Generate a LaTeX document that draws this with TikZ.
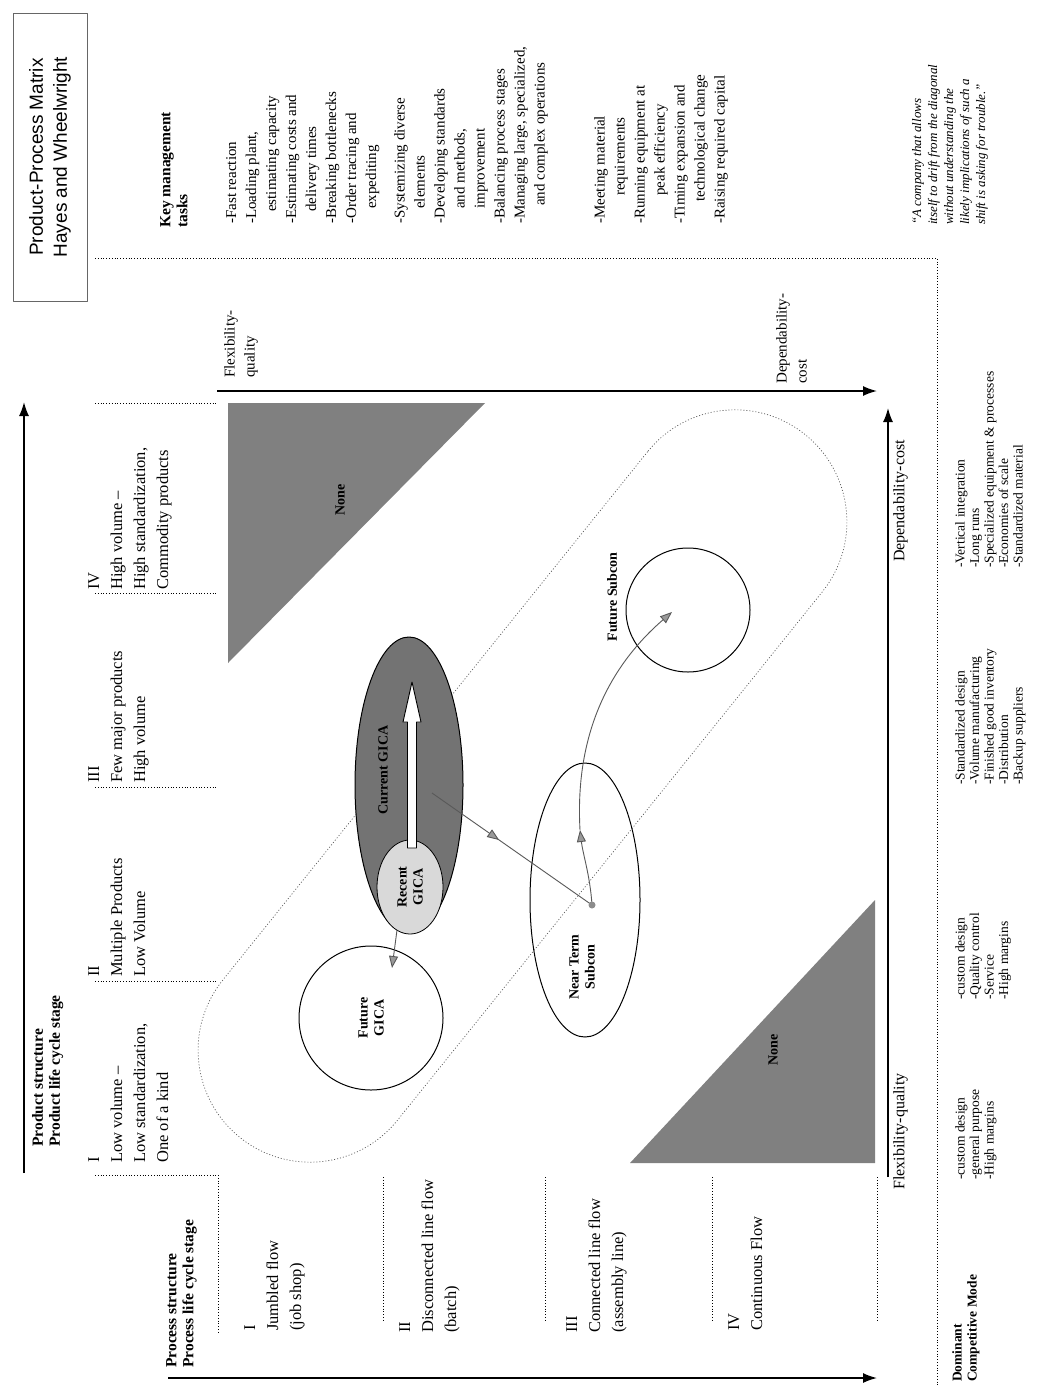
\documentclass[tikz,border=0pt]{standalone}
\usepackage{fontspec}
\setmainfont{Liberation Serif}
\newfontfamily\titlefont{Liberation Sans}
\usetikzlibrary{arrows.meta,shapes.geometric,decorations.markings}
\begin{document}
\begin{tikzpicture}[x=1pt,y=-1pt,line join=round,
  lab/.style={rotate=90,anchor=north west,align=left,inner sep=0pt,font=\fontsize{16.5}{23}\selectfont},
  hdr/.style={rotate=90,anchor=north west,align=left,inner sep=0pt,font=\bfseries\fontsize{15.5}{17}\selectfont},
  lst/.style={rotate=90,anchor=north west,align=left,inner sep=0pt,font=\fontsize{15}{20}\selectfont},
  sml/.style={rotate=90,anchor=north west,align=left,inner sep=0pt,font=\fontsize{13.5}{14.5}\selectfont},
  blab/.style={rotate=90,align=center,inner sep=0pt,font=\bfseries\fontsize{14}{16}\selectfont},
  sep/.style={dotted,line width=0.8pt},
  axis/.style={line width=1.6pt,-{Latex[length=14pt,width=10pt]}},
  conn/.style={line width=0.9pt,draw=black!65,-{Triangle[length=12pt,width=9pt,fill=black!40]}},
  connmid/.style={line width=0.9pt,draw=black!65,postaction={decorate},
    decoration={markings,mark=at position 0.42 with {\arrow{Triangle[length=12pt,width=9pt,fill=black!40]}}}},
  ]
\useasboundingbox[fill=white] (0,0) rectangle (1057,1388);

% title
\node[draw=black!60,line width=0.6pt,rotate=90,minimum width=288pt,minimum height=74pt,align=center,
  font=\titlefont\fontsize{19}{24}\selectfont] (title) at (50,157) {Product-Process Matrix\\Hayes and Wheelwright};

% main axes
\coordinate (pa0) at (24,1173); \coordinate (pa1) at (24,402);
\draw[axis] (pa0) -- (pa1);
\coordinate (qa0) at (168,1378); \coordinate (qa1) at (877,1378);
\draw[axis] (qa0) -- (qa1);
\coordinate (ra0) at (217,391); \coordinate (ra1) at (877,391);
\draw[axis] (ra0) -- (ra1);
\coordinate (sa0) at (888,1177); \coordinate (sa1) at (888,408);
\draw[axis] (sa0) -- (sa1);

% separators
\foreach \yy in {403,593,787,981,1175} \draw[sep] (95,\yy) -- (217,\yy);
\draw[sep] (218,1175) -- (218,1332);
\foreach \xx in {383,545,712,877} \draw[sep] (\xx,1177) -- (\xx,1320);
\draw[sep] (95,258) -- (937,258) -- (937,1386);

% headers
\node[hdr] (prodh) at (32,1147) {Product structure\\Product life cycle stage};
\node[hdr] (proch) at (166,1368) {Process structure\\Process life cycle stage};
\node[hdr] (keyh) at (160,228) {Key management\\tasks};

\node[lab] (c1) at (88,1163) {I\\Low volume --\\Low standardization,\\One of a kind};
\node[lab] (c2) at (88,977) {II\\Multiple Products\\Low Volume};
\node[lab] (c3) at (88,783) {III\\Few major products\\High volume};
\node[lab] (c4) at (88,590) {IV\\High volume --\\High standardization,\\Commodity products};

\node[lab] (r1) at (244,1331) {I\\Jumbled flow\\(job shop)};
\node[lab] (r2) at (399,1333) {II\\Disconnected line flow\\(batch)};
\node[lab] (r3) at (566,1333) {III\\Connected line flow\\(assembly line)};
\node[lab] (r4) at (728,1331) {IV\\Continuous Flow};

% key management tasks
\node[lst] (k1) at (226,224) {-Fast reaction\\-Loading plant,\\\hspace*{12pt}estimating capacity\\-Estimating costs and\\\hspace*{12pt}delivery times\\-Breaking bottlenecks\\-Order tracing and\\\hspace*{15pt}expediting};
\node[lst] (k2) at (394,224) {-Systemizing diverse\\\hspace*{15pt}elements\\-Developing standards\\\hspace*{15pt}and methods,\\\hspace*{15pt}improvement\\-Balancing process stages\\-Managing large, specialized,\\\hspace*{18pt}and complex operations};
\node[lst] (k3) at (594,224) {-Meeting material\\\hspace*{28pt}requirements\\-Running equipment at\\\hspace*{28pt}peak efficiency\\-Timing expansion and\\\hspace*{22pt}technological change\\-Raising required capital};

% inner axis labels
\node[lst] (fq1) at (224,378) {Flexibility-\\quality};
\node[lst] (dc1) at (776,384) {Dependability-\\cost};
\node[lst,font=\fontsize{16}{20}\selectfont] (fq2) at (893,1190) {Flexibility-quality};
\node[lst,font=\fontsize{16}{20}\selectfont] (dc2) at (893,562) {Dependability-cost};

% bottom row
\node[sml,font=\bfseries\fontsize{13.5}{15}\selectfont] (domh) at (952,1382) {Dominant\\Competitive Mode};
\node[sml] (d1) at (955,1180) {-custom design\\-general purpose\\-High margins};
\node[sml] (d2) at (955,1000) {-custom design\\-Quality control\\-Service\\-High margins};
\node[sml] (d3) at (955,785) {-Standardized design\\-Volume manufacturing\\-Finished good inventory\\-Distribution\\-Backup suppliers};
\node[sml] (d4) at (955,568) {-Vertical integration\\-Long runs\\-Specialized equipment \& processes\\-Economies of scale\\-Standardized material};

% quote
\node[sml,font=\itshape\fontsize{13}{16}\selectfont] (quote) at (912,225) {``A company that allows\\itself to drift from the diagonal\\without understanding the\\likely implications of such a\\shift is asking for trouble.''};

% triangles
\fill[black!50] (228,403) -- (485,403) -- (228,663) -- cycle;
\fill[black!50] (875,900) -- (875,1163) -- (630,1163) -- cycle;
\node[blab] (none1) at (340,500) {None};
\node[blab] (none2) at (773,1050) {None};

% band
\node[draw=black!65,dash pattern=on 1pt off 2pt,line width=0.7pt,rounded corners=112pt,
  minimum width=902pt,minimum height=224pt,rotate=51.2,inner sep=0pt] (band) at (522.5,786) {};

% circles and ellipses
\node[circle,draw,line width=1pt,minimum size=144pt,inner sep=0pt] (fgica) at (371,1018) {};
\node[blab] at (fgica.center) {Future\\GICA};
\node[ellipse,draw,line width=1pt,fill=black!55,minimum width=296pt,minimum height=108pt,rotate=90,inner sep=0pt] (cur) at (409,785) {};
\node[ellipse,draw,line width=0.8pt,fill=black!15,minimum width=94pt,minimum height=66pt,rotate=90,inner sep=0pt] (rec) at (410,887) {};
\node[blab] at (rec.center) {Recent\\GICA};
\node[blab] (curl) at (383,770) {Current GICA};
\draw[fill=white,line width=0.9pt] (407.5,848) -- (407.5,722) -- (403,722) -- (412,682) -- (421,722) -- (416.5,722) -- (416.5,848) -- cycle;
\node[ellipse,draw,line width=1pt,minimum width=274pt,minimum height=110pt,rotate=90,inner sep=0pt] (near) at (585,900) {};
\node[blab] (nearl) at (582,967) {Near Term\\Subcon};
\node[circle,draw,line width=1pt,minimum size=124pt,inner sep=0pt] (fsub) at (688,610) {};
\node[blab] (fsubl) at (612,597) {Future Subcon};

% connectors
\coordinate (a1) at (397,930); \coordinate (a2) at (392,968);
\draw[conn] (a1) -- (a2);
\coordinate (b1) at (432,793); \coordinate (knot) at (592,905);
\draw[connmid] (b1) -- (knot);
\coordinate (k1p) at (580,830); \coordinate (endp) at (672,612);
\draw[conn] (knot) .. controls (590,875) and (583,855) .. (k1p);
\draw[conn] (k1p) .. controls (575,740) and (605,670) .. (endp);
\fill[black!45] (knot) circle (3.5pt);
\end{tikzpicture}
\end{document}
